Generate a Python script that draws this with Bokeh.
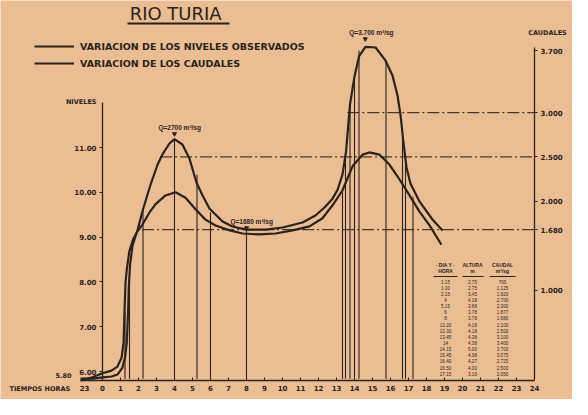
from bokeh.plotting import figure
from bokeh.models import LinearAxis, Range1d, FixedTicker, Label, Legend, LegendItem
from bokeh.embed import file_html
from bokeh.resources import INLINE

# ---------------- data ----------------
level_hours = [-1.22, -0.56, 0.00, 0.50, 0.83, 1.06, 1.17, 1.22, 1.28, 1.36, 1.50, 1.72, 1.94,
               2.22, 2.61, 2.94, 3.50, 4.06, 4.61, 5.17, 5.72, 6.28, 7.06, 7.78, 8.72, 9.61,
               10.56, 11.50, 12.22, 12.78, 13.33, 13.89, 14.44, 14.83, 15.39, 15.94, 16.50,
               17.06, 17.61, 18.17, 18.83]
level_values = [5.80, 5.87, 5.96, 6.02, 6.11, 6.31, 6.65, 7.32, 7.99, 8.32, 8.70, 8.97, 9.13,
                9.28, 9.55, 9.73, 9.93, 10.00, 9.88, 9.62, 9.39, 9.26, 9.15, 9.08, 9.06, 9.08,
                9.15, 9.24, 9.42, 9.71, 10.04, 10.58, 10.84, 10.89, 10.84, 10.62, 10.29,
                9.93, 9.57, 9.26, 8.83]

flow_hours = [-1.22, -0.56, 0.00, 0.50, 0.83, 1.11, 1.25, 1.35, 1.42, 1.46, 1.53, 1.67, 1.94,
              2.25, 2.67, 3.06, 3.33, 3.72, 4.00, 4.44, 4.83, 5.22, 5.56, 5.94, 6.67, 7.22,
              8.00, 9.06, 10.00, 11.11, 11.83, 12.33, 12.78, 13.06, 13.33, 13.53, 13.75,
              14.00, 14.25, 14.61, 15.17, 15.72, 16.11, 16.39, 16.56, 16.72, 16.89, 17.11,
              17.61, 18.33, 18.89]
flow_values = [0, 0, 14, 25, 47, 126, 239, 408, 746, 1028, 1287, 1502, 1671,
               1908, 2189, 2415, 2528, 2652, 2700, 2640, 2482, 2212, 2065, 1919, 1772, 1716,
               1680, 1680, 1705, 1761, 1840, 1930, 2030, 2130, 2300, 2560, 3092,
               3407, 3633, 3740, 3734, 3588, 3419, 3193, 2968, 2663, 2381, 2201,
               1998, 1795, 1671]

table_time = ["1.15", "1.30", "2.15", "4", "5.15", "6", "8", "13.20", "13.30", "13.45",
              "14", "14.15", "15.45", "16.40", "16.50", "17.15"]
table_altura = ["2.75", "2.75", "3.45", "4.18", "3.88", "3.78", "3.78", "4.18", "4.18", "4.38",
                "4.38", "5.00", "4.98", "4.27", "4.00", "3.16"]
table_caudal = ["765", "1.125", "1.920", "2.700", "2.300", "1.877", "1.680", "2.100", "2.500",
                "3.100", "3.400", "3.700", "3.575", "2.725", "2.500", "2.050"]
table_caudal_values = [765, 1125, 1920, 2700, 2300, 1877, 1680, 2100, 2500,
                       3100, 3400, 3700, 3575, 2725, 2500, 2050]

ref_flows = [1680, 2500, 3000]
ref_start_hours = [2.2, 3.2, 13.6]

peak_hours = [4.0, 8.0, 14.6]
peak_flows = [2760, 1700, 3830]
peak_labels = ["Q=2700 m³/sg", "Q=1680 m³/sg", "Q=3.700 m³/sg"]

level_ticks = [6, 7, 8, 9, 10, 11]
flow_ticks = [1000, 1680, 2000, 2500, 3000, 3700]
flow_tick_labels = ["1.000", "1.680", "2.000", "2.500", "3.000", "3.700"]
hour_ticks = list(range(-1, 25))

# ---------------- layout helpers ----------------
W, H = 572, 399
X0, XS = 110.0, 18.0       # page x of hour 0, px per hour
Y11, YS = 155.0, 44.8      # page y of level 11.00, px per metre
QY0, QS = 386.2, 0.0887    # page y of flow 0, px per m3/s


def hx(px):
    return (px - X0) / XS


def ly(py):
    return 11 - (py - Y11) / YS


def qy(py):
    return (QY0 - py) / QS


def hm(t):
    parts = t.split(".")
    h = float(parts[0])
    if len(parts) > 1:
        h += float(parts[1]) / 60.0
    return h


INK = "#2a221c"
PAPER = "#ebbd93"
FONT = "DejaVu Sans"

p = figure(width=W, height=H, output_backend="svg", toolbar_location=None,
           x_range=Range1d(hx(8), hx(8 + W)), y_range=Range1d(ly(8 + H), ly(8)),
           x_axis_type=None, y_axis_type=None, min_border=0)
p.extra_y_ranges = {"q": Range1d(qy(8 + H), qy(8))}
p.background_fill_color = PAPER
p.border_fill_color = PAPER
p.outline_line_color = None


def style_axis(ax, size="7px"):
    ax.axis_line_color = INK
    ax.axis_line_width = 1.3
    ax.major_tick_line_color = INK
    ax.minor_tick_line_color = None
    ax.major_label_text_color = INK
    ax.major_label_text_font = FONT
    ax.major_label_text_font_size = size
    ax.major_label_text_font_style = "bold"


xa = LinearAxis(fixed_location=5.8, bounds=(hx(88), 24),
                ticker=FixedTicker(ticks=hour_ticks),
                major_label_overrides={-1: "23"},
                major_tick_in=3, major_tick_out=0, major_label_standoff=5)
style_axis(xa)
p.add_layout(xa, "below")

ya = LinearAxis(fixed_location=0, bounds=(5.8, 12.0),
                ticker=FixedTicker(ticks=level_ticks),
                major_label_overrides={t: f"{t:.2f}" for t in level_ticks},
                major_tick_in=0, major_tick_out=3, major_label_standoff=3)
style_axis(ya)
p.add_layout(ya, "left")

ra = LinearAxis(y_range_name="q", fixed_location=24, bounds=(0, 3735),
                ticker=FixedTicker(ticks=flow_ticks),
                major_label_overrides=dict(zip(flow_ticks, flow_tick_labels)),
                major_tick_in=0, major_tick_out=3, major_label_standoff=3)
style_axis(ra)
p.add_layout(ra, "right")

# reference dash-dot levels
p.segment(x0=ref_start_hours, y0=ref_flows, x1=[24] * len(ref_flows), y1=ref_flows,
          y_range_name="q", line_color=INK, line_width=1.2, line_dash="12 3 2 3", line_alpha=0.85)

# vertical measurement lines
t_hours = [hm(t) for t in table_time]
p.segment(x0=t_hours, y0=[0] * len(t_hours), x1=t_hours, y1=table_caudal_values,
          y_range_name="q", line_color=INK, line_width=1.1)

# curves
r_lev = p.line(level_hours, level_values, line_color=INK, line_width=2.2)
r_flow = p.line(flow_hours, flow_values, y_range_name="q", line_color=INK, line_width=2.2)

# peak markers and labels
p.scatter(peak_hours, peak_flows, y_range_name="q", marker="inverted_triangle",
          size=4, color=INK)
p.text(x=peak_hours, y=peak_flows, text=peak_labels, y_range_name="q",
       x_offset=-16, y_offset=-6, text_align="left", text_baseline="middle",
       text_font_size="6.5px", text_font_style="bold", text_color=INK)

# legend
legend = Legend(items=[LegendItem(label="VARIACION DE LOS NIVELES OBSERVADOS", renderers=[r_lev]),
                       LegendItem(label="VARIACION DE LOS CAUDALES", renderers=[r_flow])],
                location=(34, 330), orientation="vertical",
                glyph_width=40, glyph_height=12, label_height=12, spacing=5,
                padding=0, margin=0, label_standoff=6,
                border_line_color=None, background_fill_alpha=0,
                label_text_font_size="9.5px", label_text_font_style="bold",
                label_text_color=INK)
legend.label_text_font = FONT
p.add_layout(legend)

# title
p.add_layout(Label(x=hx(186), y=ly(21), text="RIO  TURIA", text_align="center",
                   text_baseline="middle", text_font_size="18px", text_color=INK,
                   text_font=FONT))
p.line([hx(135), hx(237)], [ly(31), ly(31)], line_color=INK, line_width=2)

# axis captions
for txt, px, py, align in [("NIVELES", 104, 109, "right"),
                           ("CAUDALES", 555, 40, "center"),
                           ("TIEMPOS   HORAS", 17, 396, "left"),
                           ("5.80", 79, 383, "right")]:
    p.add_layout(Label(x=hx(px), y=ly(py), text=txt, text_align=align,
                       text_baseline="middle", text_font_size="6.5px",
                       text_font_style="bold", text_color=INK, text_font=FONT))

# data table
col_x = [hx(453), hx(480), hx(510)]
headers_top = ["· DIA Y ·", "ALTURA", "CAUDAL"]
headers_bot = ["HORA", "m", "m³/sg"]
p.text(x=col_x, y=[ly(272)] * 3, text=headers_top, text_align="center", text_baseline="middle",
       text_font_size="5px", text_font_style="bold", text_color=INK)
p.text(x=col_x, y=[ly(278)] * 3, text=headers_bot, text_align="center", text_baseline="middle",
       text_font_size="5px", text_font_style="bold", text_color=INK)
p.segment(x0=[hx(441), hx(470), hx(497)], y0=[ly(284)] * 3,
          x1=[hx(465), hx(491), hx(523)], y1=[ly(284)] * 3, line_color=INK, line_width=1)
row_y = [ly(289 + i * 6.15) for i in range(len(table_time))]
for cx, col in zip(col_x, [table_time, table_altura, table_caudal]):
    p.text(x=[cx] * len(col), y=row_y, text=col, text_align="center", text_baseline="middle",
           text_font_size="4.5px", text_color=INK)

open("out.html", "w").write(file_html(p, INLINE))
